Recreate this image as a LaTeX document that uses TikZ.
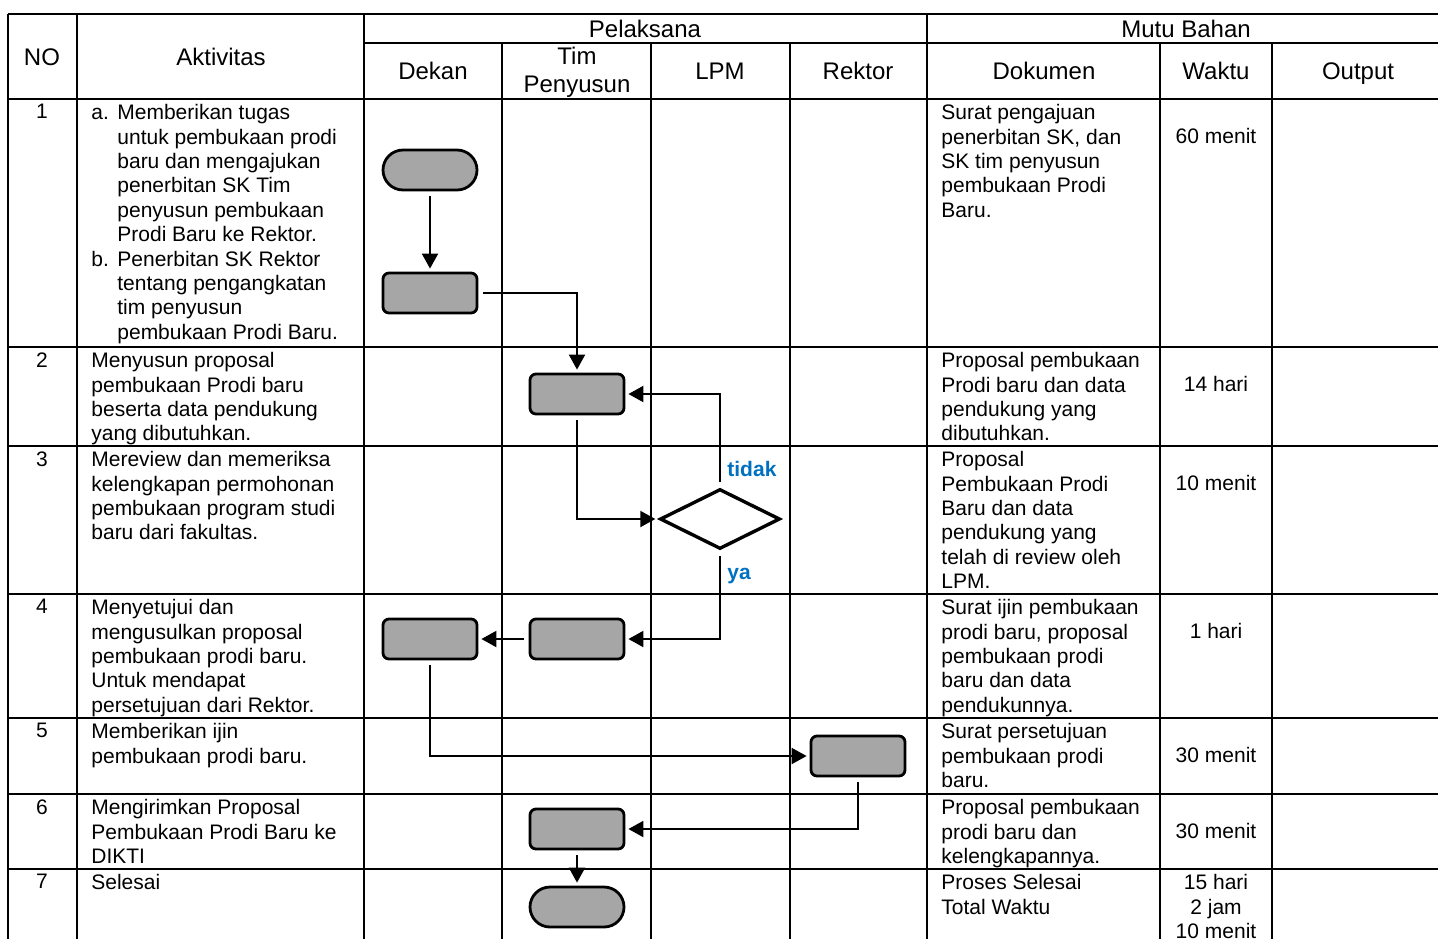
\documentclass[tikz,border=0pt]{standalone}
\usepackage{fontspec}
\setmainfont{Liberation Sans}
\usetikzlibrary{arrows.meta,shapes.geometric}
\definecolor{abu}{HTML}{A6A6A6}
\definecolor{biru}{HTML}{0070C0}
\tikzset{
  garis/.style={line width=1pt},
  judul/.style={font=\fontsize{12}{14}\selectfont, align=center, inner sep=0pt},
  isi/.style={font=\fontsize{10.5}{12.2}\selectfont, align=left, anchor=north west, inner sep=0pt},
  waktu/.style={font=\fontsize{10.5}{12.2}\selectfont, align=center, anchor=north, inner sep=0pt},
  proses/.style={draw, line width=1.4pt, fill=abu, rounded corners=3pt, minimum width=47pt, minimum height=20pt, inner sep=0pt},
  terminal/.style={proses, rounded corners=10pt},
  keputusan/.style={draw, diamond, line width=1.7pt, minimum width=60pt, minimum height=30pt, inner sep=0pt},
  alur/.style={line width=1pt, -{Triangle[length=7.5pt,width=8pt]}, shorten <=2.5pt, shorten >=1.5pt},
  ket/.style={font=\fontsize{10.5}{12}\selectfont\bfseries, text=biru, anchor=west, inner sep=0pt}
}

\begin{document}
\begin{tikzpicture}[x=0.5pt, y=-0.5pt]
    \fill[white] (0,0) rectangle (1438,938);
    \clip (0,0) rectangle (1438,938);
    % tabel
    \draw[garis] (8,14) -- (1445,14);
    \draw[garis] (364,43) -- (1445,43);
    \foreach \y in {99,347,446,594,718,794,869}
        \draw[garis] (8,\y) -- (1445,\y);
    \foreach \x in {8,77,364,927}
        \draw[garis] (\x,14) -- (\x,950);
    \foreach \x in {502,651,790,1160,1272}
        \draw[garis] (\x,43) -- (\x,950);

    % kepala tabel
    \node[judul] (hNo) at (42,57) {NO};
    \node[judul] (hAkt) at (221,57) {Aktivitas};
    \node[judul] (hPel) at (645,29) {Pelaksana};
    \node[judul] (hDek) at (433,71) {Dekan};
    \node[judul] (hTim) at (577,72) {Tim\\Penyusun};
    \node[judul] (hLpm) at (720,71) {LPM};
    \node[judul] (hRek) at (858,71) {Rektor};
    \node[judul] (hMutu) at (1186,29) {Mutu Bahan};
    \node[judul] (hDok) at (1044,71) {Dokumen};
    \node[judul] (hWkt) at (1216,71) {Waktu};
    \node[judul] (hOut) at (1358,74) {Output};

    % nomor
    \foreach \n/\y in {1/99,2/347,3/446,4/594,5/718,6/794,7/869}
        \node[waktu] (no\n) at (42,\y+5) {\n};

    % aktivitas
    \node[isi] (akt1) at (91,104) {\makebox[13pt][l]{a.}Memberikan tugas\\
        \hspace*{13pt}untuk pembukaan prodi\\
        \hspace*{13pt}baru dan mengajukan\\
        \hspace*{13pt}penerbitan SK Tim\\
        \hspace*{13pt}penyusun pembukaan\\
        \hspace*{13pt}Prodi Baru ke Rektor.\\
        \makebox[13pt][l]{b.}Penerbitan SK Rektor\\
        \hspace*{13pt}tentang pengangkatan\\
        \hspace*{13pt}tim penyusun\\
        \hspace*{13pt}pembukaan Prodi Baru.};
    \node[isi] (akt2) at (91,352) {Menyusun proposal\\pembukaan Prodi baru\\beserta data pendukung\\yang dibutuhkan.};
    \node[isi] (akt3) at (91,451) {Mereview dan memeriksa\\kelengkapan permohonan\\pembukaan program studi\\baru dari fakultas.};
    \node[isi] (akt4) at (91,599) {Menyetujui dan\\mengusulkan proposal\\pembukaan prodi baru.\\Untuk mendapat\\persetujuan dari Rektor.};
    \node[isi] (akt5) at (91,723) {Memberikan ijin\\pembukaan prodi baru.};
    \node[isi] (akt6) at (91,799) {Mengirimkan Proposal\\Pembukaan Prodi Baru ke\\DIKTI};
    \node[isi] (akt7) at (91,874) {Selesai};

    % dokumen
    \node[isi] (dok1) at (941,104) {Surat pengajuan\\penerbitan SK, dan\\SK tim penyusun\\pembukaan Prodi\\Baru.};
    \node[isi] (dok2) at (941,352) {Proposal pembukaan\\Prodi baru dan data\\pendukung yang\\dibutuhkan.};
    \node[isi] (dok3) at (941,451) {Proposal\\Pembukaan Prodi\\Baru dan data\\pendukung yang\\telah di review oleh\\LPM.};
    \node[isi] (dok4) at (941,599) {Surat ijin pembukaan\\prodi baru, proposal\\pembukaan prodi\\baru dan data\\pendukunnya.};
    \node[isi] (dok5) at (941,723) {Surat persetujuan\\pembukaan prodi\\baru.};
    \node[isi] (dok6) at (941,799) {Proposal pembukaan\\prodi baru dan\\kelengkapannya.};
    \node[isi] (dok7) at (941,874) {Proses Selesai\\Total Waktu};

    % waktu
    \node[waktu] (wkt1) at (1216,128) {60 menit};
    \node[waktu] (wkt2) at (1216,376) {14 hari};
    \node[waktu] (wkt3) at (1216,475) {10 menit};
    \node[waktu] (wkt4) at (1216,623) {1 hari};
    \node[waktu] (wkt5) at (1216,747) {30 menit};
    \node[waktu] (wkt6) at (1216,823) {30 menit};
    \node[waktu] (wkt7) at (1216,874) {15 hari\\2 jam\\10 menit};

    % bagan alir
    \node[terminal] (awal) at (430,170) {};
    \node[proses] (dekan1) at (430,293) {};
    \node[proses] (tim1) at (577,394) {};
    \node[keputusan] (cek) at (720,519) {};
    \node[proses] (tim2) at (577,639) {};
    \node[proses] (dekan2) at (430,639) {};
    \node[proses] (rektor1) at (858,756) {};
    \node[proses] (tim3) at (577,829) {};
    \node[terminal] (akhir) at (577,907) {};

    \node[ket] (tidak) at (727,469) {tidak};
    \node[ket] (ya) at (727,576) {ya};

    \draw[alur] (awal) -- (dekan1);
    \draw[alur] (dekan1.east) -| (tim1.north);
    \draw[alur] (tim1.south) |- (cek.west);
    \draw[alur] (cek.north) |- (tim1.east);
    \draw[alur] (cek.south) |- (tim2.east);
    \draw[alur] (tim2.west) -- (dekan2.east);
    \draw[alur] (dekan2.south) |- (rektor1.west);
    \draw[alur] (rektor1.south) |- (tim3.east);
    \draw[alur] (tim3) -- (akhir);
\end{tikzpicture}
\end{document}
